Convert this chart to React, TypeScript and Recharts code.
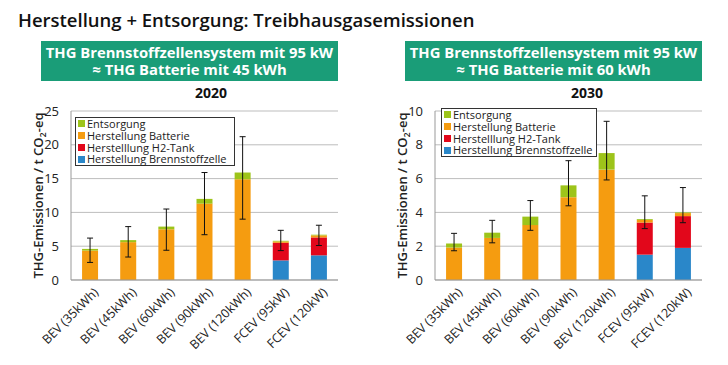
import React from 'react';
import { BarChart, Bar, XAxis, YAxis, CartesianGrid, ErrorBar } from 'recharts';

const categories = ['BEV (35kWh)', 'BEV (45kWh)', 'BEV (60kWh)', 'BEV (90kWh)', 'BEV (120kWh)', 'FCEV (95kW)', 'FCEV (120kW)'];

// 2020
const bz2020 = [0, 0, 0, 0, 0, 2.9, 3.65];
const h22020 = [0, 0, 0, 0, 0, 2.6, 2.65];
const batt2020 = [4.35, 5.6, 7.5, 11.3, 14.9, 0.2, 0.3];
const ent2020 = [0.25, 0.3, 0.4, 0.7, 1.0, 0.1, 0.1];
const errLow2020 = [2.6, 3.4, 4.4, 6.7, 9.0, 4.35, 5.1];
const errHigh2020 = [6.2, 7.9, 10.5, 15.9, 21.2, 7.35, 8.1];
const ticks2020 = [0, 5, 10, 15, 20, 25];

// 2030
const bz2030 = [0, 0, 0, 0, 0, 1.5, 1.9];
const h22030 = [0, 0, 0, 0, 0, 1.9, 1.88];
const batt2030 = [1.92, 2.49, 3.25, 4.9, 6.53, 0.15, 0.18];
const ent2030 = [0.24, 0.31, 0.5, 0.7, 0.98, 0.05, 0.04];
const errLow2030 = [1.73, 2.2, 2.94, 4.39, 5.92, 3.04, 3.39];
const errHigh2030 = [2.76, 3.53, 4.7, 7.06, 9.39, 4.98, 5.47];
const ticks2030 = [0, 2, 4, 6, 8, 10];

const COLORS = { ent: '#9dc41a', batt: '#f59c10', h2: '#e2071b', bz: '#2a87c9' };
const seriesNames = {
  ent: 'Entsorgung',
  batt: 'Herstellung Batterie',
  h2: 'Herstelllung H2-Tank',
  bz: 'Herstellung Brennstoffzelle',
};

const FONT = "'Open Sans', 'Noto Sans', sans-serif";

function buildData(bz: number[], h2: number[], batt: number[], ent: number[], lo: number[], hi: number[]) {
  return categories.map((name, i) => {
    const total = bz[i] + h2[i] + batt[i] + ent[i];
    return { name, bz: bz[i], h2: h2[i], batt: batt[i], ent: ent[i], err: [total - lo[i], hi[i] - total] };
  });
}

const data2020 = buildData(bz2020, h22020, batt2020, ent2020, errLow2020, errHigh2020);
const data2030 = buildData(bz2030, h22030, batt2030, ent2030, errLow2030, errHigh2030);

const XTick = (props: any) => {
  const { x, y, payload } = props;
  return (
    <g transform={`translate(${x + 6},${y + 2})`}>
      <text x={0} y={0} dy="0.35em" textAnchor="end" transform="rotate(-45)" fontSize={12.5} fill="#222" fontFamily={FONT}>
        {payload.value}
      </text>
    </g>
  );
};

const LegendBox = (props: { left: number; top: number; width: number }) => {
  const order: (keyof typeof COLORS)[] = ['ent', 'batt', 'h2', 'bz'];
  return (
    <div
      style={{
        position: 'absolute',
        left: props.left,
        top: props.top,
        width: props.width,
        height: 49,
        border: '1px solid #333',
        background: '#fff',
        padding: '0px 2px',
        boxSizing: 'border-box',
      }}
    >
      {order.map((k) => (
        <div key={k} style={{ display: 'flex', alignItems: 'center', height: 11.8, fontSize: 11, lineHeight: '11.8px', fontFamily: FONT, color: '#222', whiteSpace: 'nowrap' }}>
          <span style={{ display: 'inline-block', width: 7, height: 7, background: COLORS[k], marginRight: 2, flex: 'none' }} />
          {seriesNames[k]}
        </div>
      ))}
    </div>
  );
};

const YLabelWrap = (props: any) => {
  const vb = props.viewBox || {};
  const cx = props.cx;
  const cy = (vb.y ?? 11) + (vb.height ?? 169) / 2;
  return (
    <text x={cx} y={cy} transform={`rotate(-90, ${cx}, ${cy})`} textAnchor="middle" dominantBaseline="central" fontSize={13} fontWeight={600} fill="#222" fontFamily={FONT}>
      THG-Emissionen / t CO<tspan fontSize={9} dy={4}>2</tspan><tspan dy={-4}>-eq</tspan>
    </text>
  );
};

function Chart(props: { data: any[]; ticks: number[]; max: number; left: number; yw: number; labelX: number }) {
  const { data, ticks, max, left, yw, labelX } = props;
  return (
    <div style={{ position: 'absolute', left, top: 100 }}>
      <BarChart width={yw + 267 + 7} height={265} data={data} margin={{ top: 11, right: 7, left: 0, bottom: 0 }} barCategoryGap="29%">
        <CartesianGrid vertical={false} stroke="#bdbdbd" />
        <XAxis dataKey="name" tick={<XTick />} tickLine={false} axisLine={{ stroke: '#999' }} interval={0} height={85} />
        <YAxis
          domain={[0, max]}
          ticks={ticks}
          width={yw}
          tickLine={false}
          axisLine={{ stroke: '#999' }}
          tick={{ fontSize: 13, fill: '#222', fontFamily: FONT }}
          tickMargin={6}
          label={<YLabelWrap cx={labelX} />}
        />
        <YAxis yAxisId="r" orientation="right" width={0} tick={false} tickLine={false} axisLine={{ stroke: '#999' }} />
        <Bar dataKey="bz" stackId="a" fill={COLORS.bz} isAnimationActive={false} />
        <Bar dataKey="h2" stackId="a" fill={COLORS.h2} isAnimationActive={false} />
        <Bar dataKey="batt" stackId="a" fill={COLORS.batt} isAnimationActive={false} />
        <Bar dataKey="ent" stackId="a" fill={COLORS.ent} isAnimationActive={false}>
          <ErrorBar dataKey="err" width={3} stroke="#111" strokeWidth={1} />
        </Bar>
      </BarChart>
    </div>
  );
}

const Banner = (props: { left: number; text2: string }) => (
  <div
    style={{
      position: 'absolute',
      left: props.left,
      top: 41,
      width: 297,
      height: 40,
      background: '#1a9d78',
      color: '#fff',
      fontFamily: FONT,
      fontWeight: 700,
      fontSize: 14.8,
      lineHeight: '17px',
      textAlign: 'center',
      paddingTop: 3,
      boxSizing: 'border-box',
      whiteSpace: 'nowrap',
    }}
  >
    <div>THG Brennstoffzellensystem mit 95 kW</div>
    <div>{props.text2}</div>
  </div>
);

export default function App() {
  return (
    <div style={{ position: 'absolute', left: 0, top: 0, width: 728, height: 365, background: '#fff', overflow: 'hidden' }}>
      <div style={{ position: 'absolute', left: 18, top: 7, fontFamily: FONT, fontWeight: 600, fontSize: 18.5, color: '#111', whiteSpace: 'nowrap' }}>
        Herstellung + Entsorgung: Treibhausgasemissionen
      </div>
      <Banner left={41} text2="≈ THG Batterie mit 45 kWh" />
      <Banner left={405} text2="≈ THG Batterie mit 60 kWh" />
      <div style={{ position: 'absolute', left: 171, width: 80, top: 83, textAlign: 'center', fontFamily: FONT, fontWeight: 700, fontSize: 14, color: '#111' }}>2020</div>
      <div style={{ position: 'absolute', left: 547, width: 80, top: 83, textAlign: 'center', fontFamily: FONT, fontWeight: 700, fontSize: 14, color: '#111' }}>2030</div>
      <Chart data={data2020} ticks={ticks2020} max={25} left={0} yw={71} labelX={38} />
      <Chart data={data2030} ticks={ticks2030} max={10} left={366} yw={69} labelX={36} />
      <LegendBox left={75} top={117} width={160} />
      <LegendBox left={441} top={108} width={156} />
    </div>
  );
}
